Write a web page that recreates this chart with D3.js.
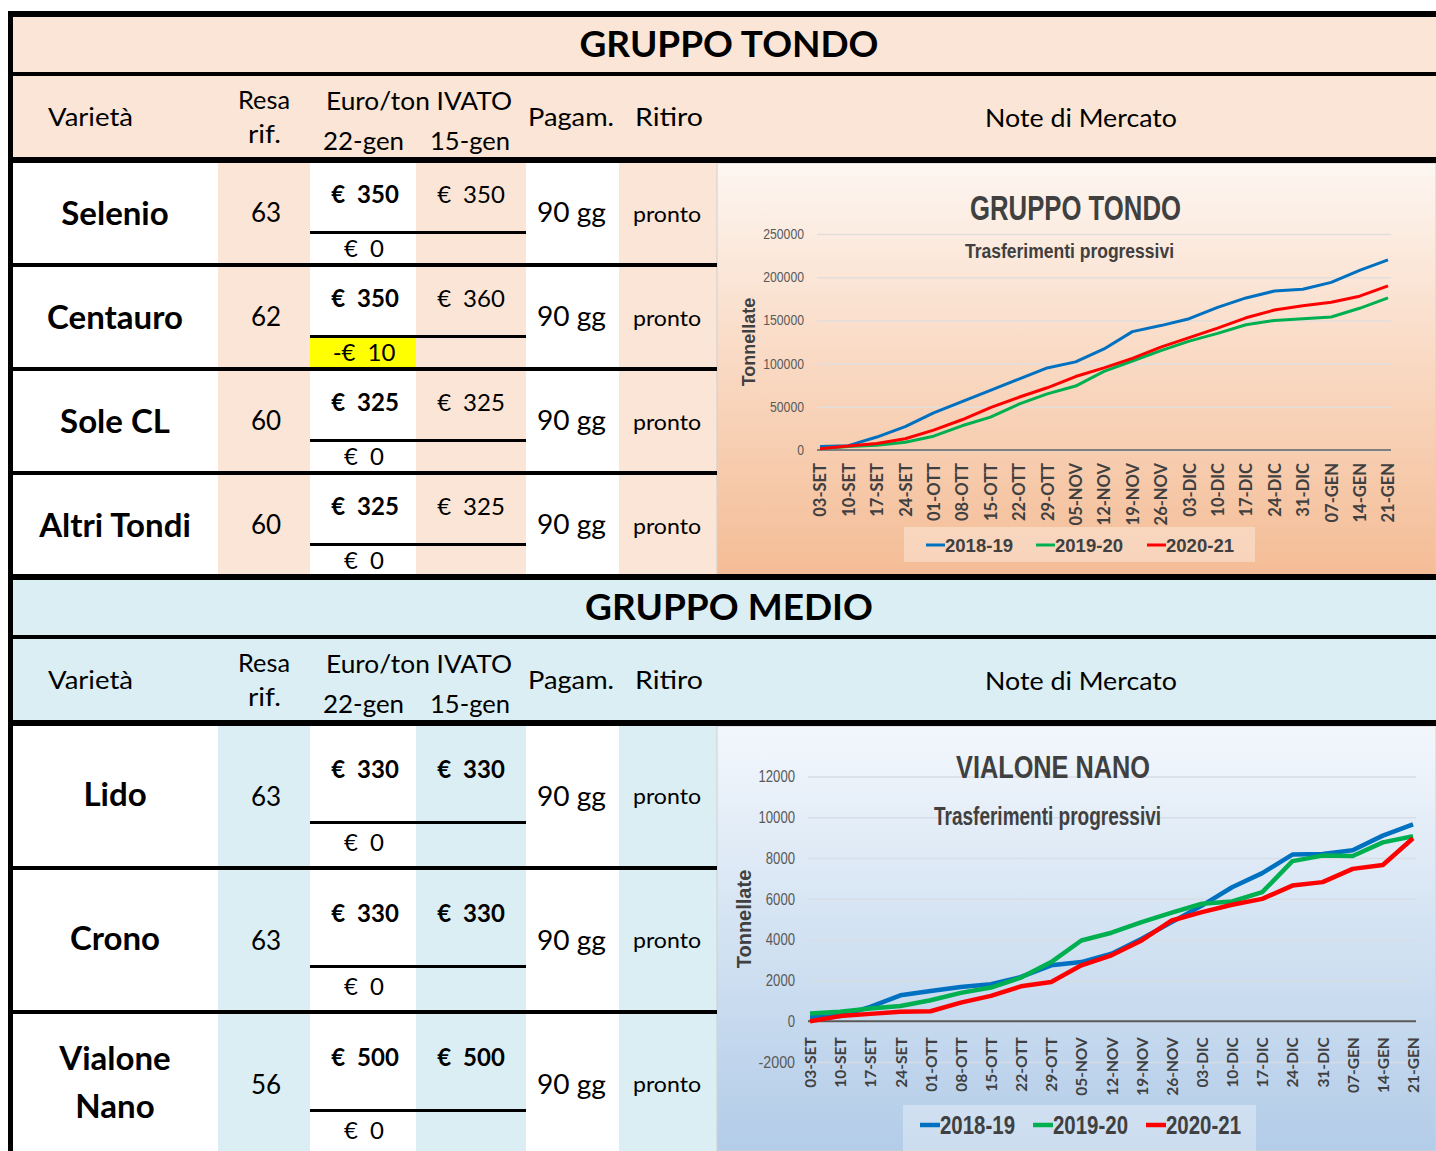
<!DOCTYPE html>
<html>
<head>
<meta charset="utf-8">
<script src="https://cdn.jsdelivr.net/npm/d3@7"></script>
<style>
    body { margin: 0; background: #fff; }
    svg { display: block; }
</style>
</head>
<body>
<div id="wrapper"></div>
<script>
// ---- data ----
const settimane = ["03-SET", "10-SET", "17-SET", "24-SET", "01-OTT", "08-OTT", "15-OTT",
    "22-OTT", "29-OTT", "05-NOV", "12-NOV", "19-NOV", "26-NOV", "03-DIC", "10-DIC",
    "17-DIC", "24-DIC", "31-DIC", "07-GEN", "14-GEN", "21-GEN"]
const campagne = ["2018-19", "2019-20", "2020-21"]

const tondo1819 = [4000, 5000, 15000, 27000, 43000, 56000, 69000, 82000, 95000, 102000, 117000,
    137000, 144000, 152000, 165000, 176000, 184000, 186000, 194000, 208000, 220000]
const tondo1920 = [1500, 4000, 5500, 9000, 16000, 28000, 38000, 53000, 65000, 74000, 91000,
    103000, 115000, 126000, 135000, 145000, 150000, 152000, 154000, 164000, 176000]
const tondo2021 = [1500, 4500, 7500, 13000, 23000, 35000, 49000, 61000, 72000, 85000, 95000,
    106000, 119000, 130000, 141000, 153000, 162000, 167000, 171000, 178000, 190000]

const vialone1819 = [200, 250, 700, 1270, 1480, 1680, 1810, 2170, 2740, 2900, 3310,
    4040, 4860, 5670, 6570, 7260, 8170, 8200, 8380, 9100, 9650]
const vialone1920 = [380, 460, 620, 750, 1030, 1390, 1650, 2140, 2900, 3960, 4340,
    4860, 5320, 5760, 5870, 6330, 7850, 8120, 8100, 8770, 9070]
const vialone2021 = [0, 250, 360, 460, 490, 910, 1240, 1710, 1920, 2740, 3230,
    3960, 4940, 5350, 5710, 6000, 6650, 6820, 7470, 7660, 8970]

const tondoTicks = [0, 50000, 100000, 150000, 200000, 250000]
const vialoneTicks = [-2000, 0, 2000, 4000, 6000, 8000, 10000, 12000]

const tondoVarieta = ["Selenio", "Centauro", "Sole CL", "Altri Tondi"]
const tondoResa = [63, 62, 60, 60]
const tondoPrezzo22 = [350, 350, 325, 325]
const tondoPrezzo15 = [350, 360, 325, 325]

const medioVarieta = ["Lido", "Crono", "Vialone Nano"]
const medioResa = [63, 63, 56]
const medioPrezzo22 = [330, 330, 500]
const medioPrezzo15 = [330, 330, 500]

const pagamento = "90 gg"
const ritiro = "pronto"

// ---- layout ----
const W = 1436, H = 1151
const cols = [13, 218, 310, 416, 526, 619, 717]
const lineColors = ["#0070c0", "#00b050", "#ff0000"]
const tableFont = "Lato, 'Open Sans', sans-serif"
const narrowFont = "'Liberation Sans Narrow', 'Liberation Sans', Arial, sans-serif"

const svg = d3.select("#wrapper").append("svg")
    .attr("width", W)
    .attr("height", H)

const defs = svg.append("defs")
function gradient(id, stops) {
    const gr = defs.append("linearGradient").attr("id", id)
        .attr("x1", 0).attr("y1", 0).attr("x2", 0).attr("y2", 1)
    stops.forEach(s => gr.append("stop").attr("offset", s[0]).attr("stop-color", s[1]))
}
gradient("bgTondo", [[0, "#fdf6f1"], [0.5, "#f9d8c1"], [1, "#f4bc95"]])
gradient("bgMedio", [[0, "#f3f7fc"], [0.5, "#d2e2f2"], [1, "#b3cce8"]])

function txt(g, s, x, y, o) {
    const t = g.append("text")
        .attr("x", x).attr("y", y)
        .attr("text-anchor", o.anchor || "middle")
        .style("font-family", o.font || tableFont)
        .style("font-size", o.size + "px")
        .style("font-weight", o.bold ? 700 : 400)
        .attr("fill", o.fill || "#000")
        .text(s)
    if (o.len) t.attr("textLength", o.len).attr("lengthAdjust", o.adjust || "spacingAndGlyphs")
    return t
}

// accounting style: "€" + gap + number, centred on x
function euroTxt(g, v, x, y, bold) {
    const t = g.append("text")
        .attr("x", x).attr("y", y)
        .attr("text-anchor", "middle")
        .style("font-family", tableFont)
        .style("font-size", "24px")
        .style("font-weight", bold ? 700 : 400)
        .attr("fill", "#000")
    t.append("tspan").text(v < 0 ? "-€" : "€")
    t.append("tspan").attr("dx", 12).text(Math.abs(v))
}

function drawTable(cfg) {
    const g = svg.append("g")
    const y0 = cfg.y0
    const rowsTop = y0 + 152
    const n = cfg.varieta.length
    const bottom = Math.min(H, rowsTop + n * cfg.pitch)

    // bands
    g.append("rect").attr("x", cols[0]).attr("y", y0 + 6).attr("width", W - cols[0]).attr("height", 55).attr("fill", cfg.tint)
    g.append("rect").attr("x", cols[0]).attr("y", y0 + 65).attr("width", W - cols[0]).attr("height", 81).attr("fill", cfg.tint)

    // row cells
    cfg.varieta.forEach((v, i) => {
        const top = rowsTop + i * cfg.pitch
        for (let c = 0; c < 6; c++) {
            g.append("rect")
                .attr("x", cols[c]).attr("y", top)
                .attr("width", cols[c + 1] - cols[c]).attr("height", cfg.pitch)
                .attr("fill", c % 2 ? cfg.tint : "#fff")
        }
        const diff = cfg.p22[i] - cfg.p15[i]
        if (diff < 0) {
            g.append("rect").attr("x", cols[2]).attr("y", top + cfg.sub + 3)
                .attr("width", cols[3] - cols[2]).attr("height", cfg.pitch - cfg.sub - 7)
                .attr("fill", "#ffff00")
        }
    })

    // chart background
    g.append("rect").attr("x", cols[6]).attr("y", rowsTop)
        .attr("width", W - cols[6]).attr("height", bottom - rowsTop)
        .attr("fill", `url(#${cfg.bg})`).attr("stroke", "#d0d0d0").attr("stroke-width", 1)

    // lines
    const black = (x, y, w, h) => g.append("rect").attr("x", x).attr("y", y).attr("width", w).attr("height", h).attr("fill", "#000")
    black(8, y0, W - 8, 6)
    black(8, y0 + 61, W - 8, 4)
    black(8, y0 + 146, W - 8, 6)
    black(8, y0, 5, bottom - y0)
    cfg.varieta.forEach((v, i) => {
        const top = rowsTop + i * cfg.pitch
        black(cols[2], top + cfg.sub, cols[4] - cols[2], 3)
        if (i < n - 1) black(8, top + cfg.pitch - 4, cols[6] - 8, 4)
    })

    // header texts
    txt(g, cfg.title, 729, y0 + 46, { size: 36, bold: true, len: cfg.titleLen })
    txt(g, "Varietà", 90.5, y0 + 115, { size: 25, len: 85 })
    txt(g, "Resa", 264, y0 + 98, { size: 25, len: 52 })
    txt(g, "rif.", 264.5, y0 + 132, { size: 25, len: 33 })
    txt(g, "Euro/ton IVATO", 419, y0 + 99, { size: 25, len: 186 })
    txt(g, "22-gen", 363.5, y0 + 139, { size: 25, len: 81 })
    txt(g, "15-gen", 470, y0 + 139, { size: 25, len: 80 })
    txt(g, "Pagam.", 571, y0 + 115, { size: 25, len: 86 })
    txt(g, "Ritiro", 669, y0 + 115, { size: 25, len: 68 })
    txt(g, "Note di Mercato", 1081, y0 + 116, { size: 25, len: 192 })

    // row texts
    const o = cfg.off
    cfg.varieta.forEach((v, i) => {
        const top = rowsTop + i * cfg.pitch
        const parts = v === "Vialone Nano" ? ["Vialone", "Nano"] : [v]
        if (parts.length === 1) {
            txt(g, v, 115, top + o.name, { size: 33, bold: true })
        } else {
            txt(g, parts[0], 115, top + o.name - 24, { size: 33, bold: true })
            txt(g, parts[1], 115, top + o.name + 24, { size: 33, bold: true })
        }
        txt(g, cfg.resa[i], 266, top + o.resa, { size: 26 })
        euroTxt(g, cfg.p22[i], 365, top + o.price, true)
        euroTxt(g, cfg.p15[i], 471, top + o.price, cfg.bold15)
        euroTxt(g, cfg.p22[i] - cfg.p15[i], 364, top + o.diff, false)
        txt(g, pagamento, 571.5, top + o.gg, { size: 27, len: 69 })
        txt(g, ritiro, 667, top + o.pronto, { size: 22, len: 68 })
    })
}

drawTable({
    y0: 11, pitch: 104, sub: 68, tint: "#fbe5d6", bg: "bgTondo",
    title: "GRUPPO TONDO", titleLen: 299,
    varieta: tondoVarieta, resa: tondoResa, p22: tondoPrezzo22, p15: tondoPrezzo15, bold15: false,
    off: { name: 62, resa: 59, price: 40, diff: 94, gg: 59, pronto: 59 }
})
drawTable({
    y0: 574, pitch: 144, sub: 95, tint: "#daeef3", bg: "bgMedio",
    title: "GRUPPO MEDIO", titleLen: 288,
    varieta: medioVarieta, resa: medioResa, p22: medioPrezzo22, p15: medioPrezzo15, bold15: true,
    off: { name: 80, resa: 80, price: 52, diff: 125, gg: 80, pronto: 78 }
})

// ---- charts ----
function drawChart(cfg) {
    const g = svg.append("g")
    const xScaler = d3.scalePoint().domain(settimane).range(cfg.xRange)
    const yScaler = d3.scaleLinear().domain(cfg.yDomain).range(cfg.yRange)

    // gridlines + y labels
    const yAxisGen = d3.axisLeft(yScaler)
        .tickValues(cfg.ticks)
        .tickFormat(d => String(d))
        .tickSize(-(cfg.gridRight - cfg.gridLeft))
        .tickPadding(cfg.labelGap)
    const yAxis = g.append("g")
        .attr("transform", `translate(${cfg.gridLeft},0)`)
        .call(yAxisGen)
    yAxis.select(".domain").remove()
    yAxis.selectAll("line").attr("stroke", cfg.gridColor).attr("stroke-width", 1.5)
    yAxis.selectAll("text")
        .style("font-family", "'Liberation Sans', Arial, sans-serif")
        .style("font-size", cfg.yFont + "px")
        .attr("fill", "#595959")
        .attr("textLength", d => String(d).length * cfg.yCharW)
        .attr("lengthAdjust", "spacingAndGlyphs")

    // x axis on zero line
    const xAxisGen = d3.axisBottom(xScaler).tickSize(0)
    const xAxis = g.append("g")
        .attr("transform", `translate(0,${yScaler(0)})`)
        .call(xAxisGen)
    xAxis.select(".domain").remove()
    xAxis.selectAll("text")
        .attr("transform", "rotate(-90)")
        .attr("text-anchor", "end")
        .attr("x", -cfg.xLabelGap)
        .attr("y", 0)
        .attr("dy", "0.36em")
        .style("font-family", tableFont)
        .style("font-weight", 700)
        .style("font-size", cfg.xFont + "px")
        .attr("fill", "#404040")
    g.append("line")
        .attr("x1", cfg.gridLeft).attr("x2", cfg.gridRight)
        .attr("y1", yScaler(0)).attr("y2", yScaler(0))
        .attr("stroke", cfg.axisColor).attr("stroke-width", 2)

    // titles
    txt(g, cfg.title, cfg.titleX, cfg.titleY, { font: narrowFont, size: cfg.titleSize, bold: true, fill: "#404040", len: cfg.titleLen })
    txt(g, "Trasferimenti progressivi", cfg.subX, cfg.subY, { font: narrowFont, size: cfg.subSize, bold: true, fill: "#404040", len: cfg.subLen })
    g.append("text")
        .attr("transform", `translate(${cfg.yTitleX},${cfg.yTitleY}) rotate(-90)`)
        .attr("text-anchor", "middle")
        .style("font-family", "'Liberation Sans', Arial, sans-serif")
        .style("font-weight", 700)
        .style("font-size", cfg.yTitleSize + "px")
        .attr("fill", "#404040")
        .text("Tonnellate")

    // lines
    const lineGen = d3.line()
        .x((d, i) => xScaler(settimane[i]))
        .y(d => yScaler(d))
    cfg.series.forEach((s, k) => {
        g.append("path")
            .datum(s)
            .attr("d", lineGen)
            .attr("fill", "none")
            .attr("stroke", lineColors[k])
            .attr("stroke-width", cfg.lineWidth)
            .attr("stroke-linejoin", "round")
    })

    // legend
    const L = cfg.legend
    g.append("rect")
        .attr("x", L.x).attr("y", L.y).attr("width", L.w).attr("height", L.h)
        .attr("fill", "#ffffff").attr("fill-opacity", 0.33)
    campagne.forEach((c, k) => {
        const x = L.items[k]
        g.append("line")
            .attr("x1", x).attr("x2", x + L.swatch)
            .attr("y1", L.lineY).attr("y2", L.lineY)
            .attr("stroke", lineColors[k]).attr("stroke-width", cfg.lineWidth)
        txt(g, c, x + L.swatch, L.textY, { anchor: "start", font: narrowFont, size: L.size, bold: true, fill: "#404040", len: L.len })
    })
}

drawChart({
    xRange: [820, 1388], yDomain: [0, 250000], yRange: [450, 234], ticks: tondoTicks,
    gridLeft: 817, gridRight: 1391, labelGap: 13, gridColor: "#e2dedc", axisColor: "#7f7f7f",
    yFont: 14, yCharW: 6.8, xFont: 16.5, xLabelGap: 13, lineWidth: 3,
    title: "GRUPPO TONDO", titleX: 1075.5, titleY: 220, titleSize: 35, titleLen: 211,
    subX: 1069.5, subY: 258, subSize: 20, subLen: 209,
    yTitleX: 755, yTitleY: 342, yTitleSize: 18,
    series: [tondo1819, tondo1920, tondo2021],
    legend: { x: 904, y: 527, w: 351, h: 35, items: [926, 1036, 1147], swatch: 19, lineY: 545, textY: 552, size: 19, len: 68 }
})
drawChart({
    xRange: [810, 1413], yDomain: [-2000, 12000], yRange: [1062, 776.5], ticks: vialoneTicks,
    gridLeft: 808, gridRight: 1416, labelGap: 13, gridColor: "#d6dde6", axisColor: "#595959",
    yFont: 16.5, yCharW: 7.3, xFont: 15.5, xLabelGap: 16, lineWidth: 4.5,
    title: "VIALONE NANO", titleX: 1053, titleY: 778, titleSize: 32, titleLen: 194,
    subX: 1047.5, subY: 825, subSize: 25, subLen: 227,
    yTitleX: 751, yTitleY: 919, yTitleSize: 20,
    series: [vialone1819, vialone1920, vialone2021],
    legend: { x: 903, y: 1105, w: 353, h: 46, items: [920, 1033, 1146], swatch: 20, lineY: 1125, textY: 1134, size: 26, len: 75 }
})
</script>
</body>
</html>
